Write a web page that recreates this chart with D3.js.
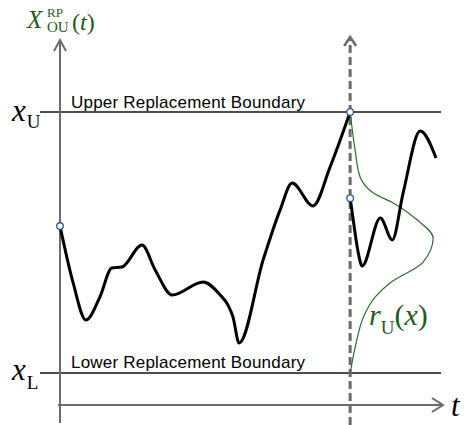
<!DOCTYPE html>
<meta charset="utf-8">
<script src="https://d3js.org/d3.v7.min.js"></script>
<style>
  body { margin: 0; background: #fff; }
</style>
<div id="my_dataviz"></div>
<script>

// path before the replacement (time, level)
var pathT1 = [0, 3.4, 6.7, 10.3, 13.4, 16.0, 21.2, 24.6, 29.0, 37.0, 41.4, 43.4, 44.7, 46.3, 52.5, 56.9, 60.0, 65.4, 69.8, 75];
var pathX1 = [5.63, 3.45, 2.03, 2.91, 4.02, 4.06, 4.90, 3.95, 2.99, 3.49, 2.99, 2.61, 2.15, 1.15, 4.33, 6.25, 7.28, 6.40, 7.89, 10];

// path after the replacement
var pathT2 = [75, 75.8, 77.1, 78.1, 82.8, 85.9, 88.7, 93.1, 97.2];
var pathX2 = [6.70, 5.86, 4.60, 4.10, 5.94, 5.10, 6.90, 9.27, 8.24];

// replacement density r_U(x)
var densLevel = [10, 8.54, 7.51, 6.90, 6.51, 5.86, 5.17, 4.25, 3.45, 2.91, 2.15, 1.26, 0];
var densValue = [0, 0.06, 0.12, 0.28, 0.52, 0.81, 1.0, 0.88, 0.48, 0.30, 0.16, 0.08, 0];

var xLower = 0, xUpper = 10, tReset = 75;

var width = 464, height = 425;

var svg = d3.select("#my_dataviz")
  .append("svg")
    .attr("width", width)
    .attr("height", height);

var x = d3.scaleLinear().domain([0, 99]).range([60, 443]);
var y = d3.scaleLinear().domain([0, 10]).range([373, 112]);
var dens = d3.scaleLinear().domain([0, 1]).range([0, 83]);

var grey = "#6b6b6b", green = "#2f6b2f", blue = "#2b5b99";

// boundaries
[xUpper, xLower].forEach(function (v) {
  svg.append("line")
    .attr("x1", 40).attr("x2", 441)
    .attr("y1", y(v)).attr("y2", y(v))
    .attr("stroke", "#111").attr("stroke-width", 1.5);
});

svg.append("text")
  .attr("x", 71).attr("y", y(xUpper) - 4)
  .attr("font-family", "Liberation Sans, Arial, sans-serif")
  .attr("font-size", 17)
  .attr("textLength", 234).attr("lengthAdjust", "spacing")
  .text("Upper Replacement Boundary");

svg.append("text")
  .attr("x", 71).attr("y", y(xLower) - 5)
  .attr("font-family", "Liberation Sans, Arial, sans-serif")
  .attr("font-size", 17)
  .attr("textLength", 234).attr("lengthAdjust", "spacing")
  .text("Lower Replacement Boundary");

// axes
svg.append("line")
  .attr("x1", x(0)).attr("x2", x(0))
  .attr("y1", 423).attr("y2", 40)
  .attr("stroke", grey).attr("stroke-width", 2);
svg.append("path")
  .attr("d", "M" + (x(0) - 6) + ",51L" + x(0) + ",40L" + (x(0) + 6) + ",51")
  .attr("fill", "none").attr("stroke", grey).attr("stroke-width", 2);

svg.append("line")
  .attr("x1", 58).attr("x2", x(99))
  .attr("y1", 405).attr("y2", 405)
  .attr("stroke", grey).attr("stroke-width", 2);
svg.append("path")
  .attr("d", "M" + (x(99) - 11) + ",398L" + x(99) + ",405L" + (x(99) - 11) + ",412")
  .attr("fill", "none").attr("stroke", grey).attr("stroke-width", 2);

// dashed replacement time line
svg.append("line")
  .attr("x1", x(tReset)).attr("x2", x(tReset))
  .attr("y1", 425).attr("y2", 38)
  .attr("stroke", grey).attr("stroke-width", 3)
  .attr("stroke-dasharray", "8,4");
svg.append("path")
  .attr("d", "M" + (x(tReset) - 6) + ",46L" + x(tReset) + ",37L" + (x(tReset) + 6) + ",46")
  .attr("fill", "none").attr("stroke", grey).attr("stroke-width", 2.5);

// density curve
var densLine = d3.line()
  .x(function (d, i) { return x(tReset) + dens(densValue[i]); })
  .y(function (d) { return y(d); })
  .curve(d3.curveMonotoneY);
svg.append("path")
  .attr("d", densLine(densLevel))
  .attr("fill", "none").attr("stroke", green).attr("stroke-width", 1.2);

// sample paths
function pathLine(ts, xs) {
  return d3.line()
    .x(function (d) { return x(d); })
    .y(function (d, i) { return y(xs[i]); })
    .curve(d3.curveMonotoneX)(ts);
}
svg.append("path").attr("d", pathLine(pathT1, pathX1))
  .attr("fill", "none").attr("stroke", "#000").attr("stroke-width", 3)
  .attr("stroke-linejoin", "round");
svg.append("path").attr("d", pathLine(pathT2, pathX2))
  .attr("fill", "none").attr("stroke", "#000").attr("stroke-width", 3)
  .attr("stroke-linejoin", "round");

// markers
var pts = [[pathT1[0], pathX1[0]], [tReset, xUpper], [pathT2[0], pathX2[0]]];
svg.selectAll("circle.m").data(pts).enter().append("circle")
  .attr("cx", function (d) { return x(d[0]); })
  .attr("cy", function (d) { return y(d[1]); })
  .attr("r", 3.3)
  .attr("fill", "#fff").attr("stroke", blue).attr("stroke-width", 1.3);

// math labels
var serif = "Liberation Serif, Times New Roman, serif";
function mathText(px, py, parts, color) {
  var t = svg.append("text").attr("x", px).attr("y", py)
    .attr("font-family", serif).attr("fill", color || "#000");
  parts.forEach(function (p) {
    var s = t.append("tspan").text(p.t)
      .attr("font-size", p.s)
      .attr("font-style", p.i ? "italic" : "normal");
    if (p.dx !== undefined) s.attr("dx", p.dx);
    if (p.dy !== undefined) s.attr("dy", p.dy);
  });
}

mathText(12, 121, [{t: "x", s: 31, i: true}, {t: "U", s: 19, dx: 1, dy: 7}]);
mathText(12, 380, [{t: "x", s: 31, i: true}, {t: "L", s: 19, dx: 1, dy: 9}]);

mathText(27, 28, [{t: "X", s: 25, i: true}], "#1f5a1f");
mathText(47, 17, [{t: "RP", s: 13}], "#1f5a1f");
mathText(47, 32, [{t: "OU", s: 15}], "#1f5a1f");
mathText(72, 30, [{t: "(", s: 24}, {t: "t", s: 24, i: true}, {t: ")", s: 24}], "#1f5a1f");

mathText(369, 325, [{t: "r", s: 30, i: true}, {t: "U", s: 19, dy: 9}, {t: "(", s: 30, dy: -9}, {t: "x", s: 30, i: true}, {t: ")", s: 30}], "#1f5a1f");

mathText(451, 416, [{t: "t", s: 31, i: true}]);

</script>
